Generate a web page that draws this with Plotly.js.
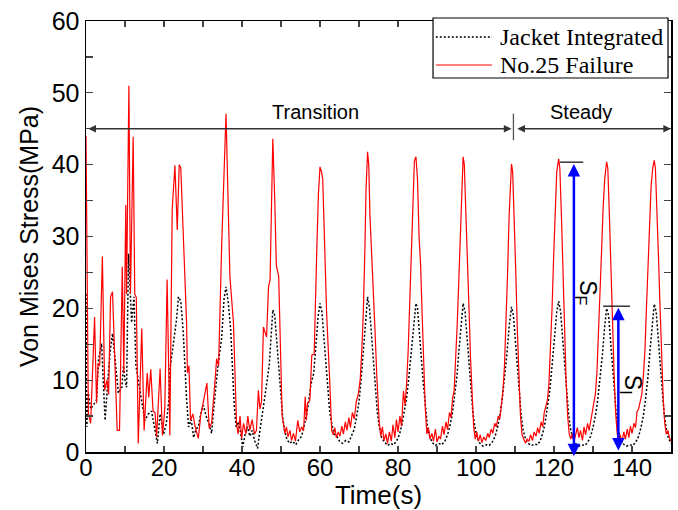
<!DOCTYPE html>
<html>
<head>
<meta charset="utf-8">
<script src="https://cdn.plot.ly/plotly-3.0.1.min.js"></script>
<style>html,body{margin:0;padding:0;background:#fff;}#chart{width:678px;height:510px;}</style>
</head>
<body>
<div id="chart"></div>
<script>
// ---- data ----
const failureTime = [
 0, 0.3, 0.6, 1.2, 1.7, 2.2, 2.7, 3.1, 3.5, 4.2, 4.8, 5.4, 5.8, 6.3, 6.8, 7.4, 8.0, 8.6, 9.3, 9.7, 10.2, 10.4, 11.0, 11.4, 12.1, 12.5, 12.9, 13.4, 14.3, 14.9, 15.7, 16.1, 16.6, 17.2, 17.7, 18.1, 19.0, 19.6, 20.2, 20.8, 21.5, 22.1,
 22.8, 23.4, 23.9, 24.3, 25.0, 25.8, 26.0, 26.4, 26.8, 27.4, 28.0, 28.8, 29.4, 30.1, 31.0, 31.6, 32.2, 33.1, 33.5, 34.0, 34.8, 35.9,
 36.4, 36.9, 37.8, 38.3, 38.6, 39.0, 39.5, 39.9, 40.4, 41.0, 41.5, 42.0, 42.6, 43.2, 43.7, 44.2, 44.6, 45.0, 45.5, 46.3, 46.8, 47.2, 47.9,
 48.4, 48.8, 49.4, 49.9, 50.3, 50.6, 51.0, 51.4, 51.8, 52.3, 52.7, 53.2, 53.7, 54.3, 54.8, 55.3, 55.8, 56.2, 56.5, 56.8, 57.4, 57.9, 58.5, 59.2, 59.6, 60.0,
 60.4, 60.7, 61.3, 61.7, 62.4, 63.0, 63.4, 63.8, 64.2, 64.7, 65.1, 65.6, 66.0, 66.5, 66.9, 67.4, 67.8, 68.3, 68.8, 69.3, 69.8, 70.3, 70.7, 71.1, 71.5, 71.8, 72.2,
 72.5, 72.8, 73.2, 73.7, 74.1, 74.6, 75.2, 75.6, 76.0, 76.4, 76.9, 77.3, 77.8, 78.3, 78.7, 79.2, 79.6, 80.0, 80.5, 80.9, 81.4, 81.8, 82.2, 82.6, 83.0, 83.4, 83.8, 84.2, 84.6,
 85.0, 85.4, 85.8, 86.2, 86.6, 87.0, 87.4, 87.8, 88.2, 88.7, 89.1, 89.6, 90.0, 90.5, 90.9, 91.4, 91.8, 92.3, 92.7, 93.2, 93.6, 94.0, 94.4, 94.8, 95.2, 95.6, 96.0, 96.4, 96.7,
 97.0, 97.4, 97.8, 98.2, 98.6, 99.0, 99.4, 99.8, 100.2, 100.6, 101.1, 101.5, 102.0, 102.5, 103.0, 103.4, 103.9, 104.3, 104.8, 105.2, 105.7, 106.1, 106.5, 106.9, 107.3, 107.7, 108.1, 108.5, 108.9, 109.1,
 109.4, 109.8, 110.2, 110.6, 111.0, 111.4, 111.8, 112.2, 112.7, 113.1, 113.6, 114.0, 114.5, 114.9, 115.4, 115.8, 116.2, 116.7, 117.1, 117.5, 117.9, 118.3, 118.7, 119.1, 119.5, 119.9, 120.3, 120.7, 121.2,
 121.5, 121.9, 122.3, 122.7, 123.1, 123.5, 123.9, 124.3, 124.7, 125.1, 125.5, 126.0, 126.4, 126.8, 127.3, 127.7, 128.1, 128.6, 129.0, 129.4, 129.8, 130.2, 130.6, 131.0, 131.4, 131.8, 132.2, 132.6, 133.0, 133.5,
 133.8, 134.2, 134.6, 135.0, 135.4, 135.8, 136.2, 136.6, 137.0, 137.4, 137.9, 138.3, 138.8, 139.2, 139.6, 140.0, 140.5, 140.9, 141.3, 141.7, 142.1, 142.5, 142.9, 143.3, 143.7, 144.1, 144.5, 144.9, 145.3, 145.7,
 146.0, 146.4, 146.8, 147.2, 147.6, 148.0, 148.4, 148.8, 149.2, 149.6, 150.0
];
const failureStress = [
 44, 20, 5.4, 4.0, 12, 18.8, 6.8, 12.3, 12, 27.2, 8.6, 10, 8, 21.6, 22.3, 13, 3, 3, 25.8, 11, 34.4, 22, 51, 22, 43.9, 22, 21.5, 1.2, 17.2, 3, 11, 7.6, 11.5, 5.7, 5.5, 2.1, 11.6, 2.3, 6, 24, 2.3, 33.7,
 39.9, 30.9, 40, 39.6, 28, 17.9, 11, 12, 4.4, 5.3, 3.5, 1.9, 5, 7, 9.6, 3.3, 4, 10, 13, 12, 29, 47.1,
 36, 24.4, 18.1, 7, 4, 2.5, 5, 1.9, 4, 2.5, 5, 3, 4.5, 2.5, 3, 8.6, 6, 7, 17.4, 16, 23, 24, 43.6,
 35, 26, 24.5, 12, 5, 4.0, 2.6, 3.5, 2.1, 3.0, 1.6, 2.6, 1.5, 4.4, 2.8, 3.5, 3.0, 7.7, 4.4, 6.8, 7.2, 13.5, 13.6, 28.6, 36, 39.7,
 39, 38, 27.5, 19.3, 11, 3.0, 2.4, 3.4, 2.0, 2.8, 2.2, 3.6, 2.5, 4.2, 3.0, 4.8, 3.4, 5.5, 4.6, 7.0, 8.0, 10, 14, 19.3, 28, 36.5, 41.8,
 40, 33, 28, 23.9, 17, 10.1, 4.1, 2.2, 3.5, 1.6, 2.5, 1.2, 2.8, 1.5, 3.8, 2.0, 4.5, 2.8, 5.0, 3.6, 8.5, 6.5, 9.5, 14, 20, 27, 34, 40.5, 41.1,
 38, 30, 26, 19, 12, 6, 2.5, 3.4, 1.8, 2.6, 1.5, 3.2, 1.4, 2.2, 1.8, 3.6, 2.4, 4.2, 3.1, 5.5, 4.8, 7.5, 8.6, 13, 18, 24, 31, 38, 41.1,
 40, 34, 27, 20, 13, 7, 3.5, 1.8, 2.8, 1.5, 2.4, 1.3, 2.1, 1.6, 2.6, 2.0, 3.2, 2.6, 4.0, 3.5, 5.0, 4.6, 6.5, 8.5, 12, 18, 25, 33, 39, 40.1,
 39, 33, 25, 17, 10, 5, 2.4, 1.8, 1.2, 1.8, 1.5, 2.4, 1.6, 2.8, 2.2, 3.4, 2.6, 4.2, 3.5, 5.5, 6.5, 7.2, 9.5, 14, 20, 27, 33, 39, 40.8,
 39.5, 33, 25, 17, 10, 5, 2.5, 1.8, 2.6, 1.4, 2.2, 3.4, 2.0, 3.0, 1.6, 3.5, 2.4, 4.0, 3.0, 4.6, 5.5, 6.8, 8.0, 11, 16, 22, 28, 34, 38, 40.4,
 39.5, 33, 25, 18, 11, 5.5, 2.6, 1.6, 2.4, 1.3, 2.8, 1.8, 3.2, 2.0, 3.6, 2.6, 4.0, 3.4, 5.6, 6.0, 7.2, 8.0, 10.5, 14, 20, 26, 32, 37, 39.5, 40.6,
 39.5, 34, 27, 20, 13, 7.5, 4, 2.5, 3.0, 2.0, 1.5
];
const jacketTime = [
 0, 0.2, 0.6, 1.2, 1.8, 2.7, 3.2, 4.0, 4.5, 4.9, 5.6, 6.2, 6.8, 7.5, 8.3, 9.2, 9.6, 10.0, 10.4, 10.9, 11.3, 11.7, 12.3, 12.8, 13.4, 14.2, 15.1, 16.0, 16.8, 17.7, 18.3, 19.0, 19.9, 20.6, 21.2, 21.5, 22.4, 23.2, 23.7,
 24.3, 24.9, 25.3, 25.8, 26.3, 27.0, 27.6, 28.2, 28.8, 29.4, 30.1, 30.8, 31.5, 32.2, 33.1, 33.9, 34.8, 35.4, 35.9,
 36.5, 37.1, 37.6, 38.0, 38.5, 39.0, 39.6, 40.2, 40.8, 41.4, 42.0, 42.6, 43.3, 44.0, 44.6, 45.0, 45.5, 46.2, 47.0, 47.5, 47.9,
 48.4, 48.9, 49.4, 49.9, 50.4, 50.9, 51.5, 52.2, 53.0, 53.8, 54.6, 55.3, 55.9, 56.5, 57.1, 57.7, 58.4, 59.0, 59.5, 60.0,
 60.5, 61.0, 61.5, 62.0, 62.5, 63.0, 63.6, 64.3, 65.0, 65.8, 66.6, 67.4, 68.1, 68.8, 69.4, 70.0, 70.6, 71.2, 71.7, 72.2,
 72.7, 73.2, 73.7, 74.2, 74.7, 75.2, 75.8, 76.5, 77.3, 78.1, 78.9, 79.7, 80.4, 81.0, 81.6, 82.2, 82.8, 83.4, 83.9, 84.3, 84.6,
 85.0, 85.5, 86.0, 86.5, 87.0, 87.5, 88.1, 88.8, 89.6, 90.4, 91.2, 92.0, 92.7, 93.3, 93.9, 94.5, 95.1, 95.6, 96.1, 96.7,
 97.2, 97.7, 98.2, 98.7, 99.2, 99.7, 100.3, 101.0, 101.8, 102.6, 103.4, 104.2, 104.9, 105.5, 106.1, 106.7, 107.3, 107.9, 108.5, 109.1,
 109.6, 110.1, 110.6, 111.1, 111.6, 112.1, 112.7, 113.4, 114.2, 115.0, 115.8, 116.5, 117.1, 117.7, 118.3, 118.9, 119.5, 120.1, 120.7, 121.2,
 121.7, 122.2, 122.7, 123.2, 123.7, 124.2, 124.8, 125.5, 126.3, 127.1, 127.9, 128.7, 129.4, 130.0, 130.6, 131.2, 131.8, 132.4, 133.0, 133.5,
 134.0, 134.5, 135.0, 135.5, 136.0, 136.5, 137.1, 137.8, 138.6, 139.4, 140.2, 141.0, 141.7, 142.3, 142.9, 143.5, 144.1, 144.6, 145.1, 145.7,
 146.2, 146.7, 147.2, 147.7, 148.2, 148.7, 149.3, 150.0
];
const jacketStress = [
 22, 3.5, 8.2, 6.0, 6.5, 7.2, 12.8, 15.1, 9, 4.4, 10, 14, 16.5, 13, 8.2, 9, 12, 10, 9, 27.6, 22, 18, 21.6, 12, 10, 7.2, 4.4, 5.3, 5.7, 3, 1.2, 5.3, 2.5, 4, 7, 11.4, 15, 18.4, 21.6,
 21, 17, 12.4, 7.3, 3.5, 4.5, 2, 3.2, 3.5, 5.3, 6.5, 5, 4, 2.6, 8, 12.3, 16, 21.3, 23,
 20.7, 17, 11.6, 6.5, 3.5, 4.2, 2.8, 0.7, 2.5, 3.5, 2.2, 3.0, 1.5, 0.5, 3.0, 4.4, 6.5, 9, 12.2, 16, 19.8,
 19, 16, 12, 8.5, 5, 3, 1.8, 1.2, 1.5, 1.0, 1.8, 2.2, 3.5, 5, 7, 9.5, 11, 15.5, 18.8, 20.7,
 19.5, 16, 12, 8.5, 5.5, 4, 2.5, 2.2, 1.5, 1.2, 1.6, 1.4, 2.2, 3.2, 5, 7, 10.5, 15, 19, 21.6,
 20, 16.5, 12.5, 9, 5.5, 3.5, 2, 1.4, 0.9, 1.2, 1.0, 1.6, 2.5, 3.8, 5.5, 7.5, 10.5, 14, 17.5, 19.8, 20.7,
 20, 17, 13, 9.5, 6, 3.8, 2.2, 1.3, 0.9, 1.2, 1.0, 1.5, 2.4, 3.6, 5.2, 7.5, 10.5, 14, 17.5, 20.7,
 19.5, 16, 12, 8.5, 5.5, 3.5, 2, 1.2, 0.8, 1.0, 0.9, 1.4, 2.2, 3.4, 5, 7.2, 10, 13.5, 17.5, 20.2,
 19, 15.5, 11.5, 8, 5, 3, 1.8, 1.2, 0.9, 1.1, 1.0, 1.6, 2.6, 4, 6, 8.5, 12, 16, 19.5, 21,
 19.5, 16, 12, 8.5, 5.5, 3.3, 2, 1.2, 0.8, 1.0, 0.9, 1.4, 2.2, 3.4, 5, 7.2, 10, 13.5, 17.5, 20,
 19, 15.5, 11.5, 8, 5, 3, 1.8, 1.1, 0.8, 1.0, 0.9, 1.4, 2.2, 3.4, 5, 7.5, 10.5, 14, 17.5, 20.6,
 19.5, 16, 12, 8.5, 5.5, 3.5, 2, 1.2
];
const seriesNames = ['Jacket Integrated', 'No.25 Failure'];
const phaseLabels = ['Transition', 'Steady'];
const xTickVals = [0, 20, 40, 60, 80, 100, 120, 140];
const yTickVals = [0, 10, 20, 30, 40, 50, 60];

const SANS = 'Liberation Sans, Arial, sans-serif';
const SERIF = 'Liberation Serif, Times New Roman, serif';
const jacketLine = {color: '#000', width: 1.5, dash: '2px,2px'};
const failureLine = {color: '#ff0000', width: 1.2};

const traces = [
  {x: jacketTime, y: jacketStress, name: seriesNames[0], mode: 'lines', line: jacketLine, showlegend: false},
  {x: failureTime, y: failureStress, name: seriesNames[1], mode: 'lines', line: failureLine, showlegend: false}
];

const arrowCommon = {xref: 'x', yref: 'y', axref: 'x', ayref: 'y', text: '', showarrow: true,
  arrowside: 'end+start', standoff: 0, startstandoff: 0};

// legend box drawn in paper coordinates
const legRows = [0.9629, 0.8979];

const layout = {
  width: 678, height: 510,
  margin: {l: 86, r: 7, t: 21, b: 58},
  paper_bgcolor: '#fff', plot_bgcolor: '#fff',
  showlegend: false,
  xaxis: {range: [0, 150], tickvals: xTickVals, ticks: 'inside', ticklen: 6, tickwidth: 1.2,
    showline: true, linecolor: '#000', linewidth: 1.5, mirror: 'allticks', showgrid: false, zeroline: false,
    minor: {dtick: 10, ticks: 'inside', ticklen: 6, tickwidth: 1.2, showgrid: false},
    tickfont: {family: SANS, size: 24, color: '#000'}, ticklabelstandoff: -6,
    title: {text: 'Time(s)', font: {family: SANS, size: 26, color: '#000'}, standoff: 2}},
  yaxis: {range: [0, 60], tickvals: yTickVals, ticks: 'inside', ticklen: 7, tickwidth: 1.2,
    showline: true, linecolor: '#000', linewidth: 1.5, mirror: 'allticks', showgrid: false, zeroline: false,
    minor: {dtick: 5, ticks: 'inside', ticklen: 7, tickwidth: 1.2, showgrid: false},
    tickfont: {family: SANS, size: 25, color: '#000'},
    title: {text: 'Von Mises Stress(MPa)', font: {family: SANS, size: 25, color: '#000'}, standoff: 6}},
  shapes: [
    {type: 'line', xref: 'x', yref: 'y', x0: 109.6, x1: 109.6, y0: 43.4, y1: 47.1, line: {color: '#555', width: 1.3}},
    {type: 'line', xref: 'x', yref: 'y', x0: 121.5, x1: 127.5, y0: 40.35, y1: 40.35, line: {color: '#000', width: 1.2}},
    {type: 'line', xref: 'x', yref: 'y', x0: 132.6, x1: 139.5, y0: 20.3, y1: 20.3, line: {color: '#000', width: 1.2}},
    {type: 'rect', xref: 'paper', yref: 'paper', x0: 0.5932, x1: 0.9949, y0: 0.8677, y1: 1.007,
     fillcolor: '#fff', line: {color: '#000', width: 1.2}, layer: 'above'},
    {type: 'line', xref: 'paper', yref: 'paper', x0: 0.598, x1: 0.694, y0: legRows[0], y1: legRows[0],
     line: {color: '#000', width: 1.3, dash: '2px,2px'}, layer: 'above'},
    {type: 'line', xref: 'paper', yref: 'paper', x0: 0.598, x1: 0.694, y0: legRows[1], y1: legRows[1],
     line: {color: '#ff0000', width: 1.2}, layer: 'above'}
  ],
  annotations: [
    Object.assign({}, arrowCommon, {x: 109.1, y: 45, ax: 0.2, ay: 45, arrowhead: 2, startarrowhead: 2,
      arrowsize: 1.1, startarrowsize: 1.1, arrowwidth: 1.4, arrowcolor: '#333'}),
    Object.assign({}, arrowCommon, {x: 150, y: 45, ax: 110.2, ay: 45, arrowhead: 2, startarrowhead: 2,
      arrowsize: 1.1, startarrowsize: 1.1, arrowwidth: 1.4, arrowcolor: '#333'}),
    Object.assign({}, arrowCommon, {x: 125.1, y: -0.6, ax: 125.1, ay: 40.3, arrowhead: 2, startarrowhead: 2,
      arrowsize: 1, startarrowsize: 1, arrowwidth: 2.5, arrowcolor: '#0000ff'}),
    Object.assign({}, arrowCommon, {x: 136.5, y: 0.2, ax: 136.5, ay: 20.3, arrowhead: 2, startarrowhead: 2,
      arrowsize: 1, startarrowsize: 1, arrowwidth: 2.5, arrowcolor: '#0000ff'}),
    {xref: 'x', yref: 'y', x: 58.9, y: 47.3, text: phaseLabels[0], showarrow: false,
     font: {family: SANS, size: 20, color: '#000'}},
    {xref: 'x', yref: 'y', x: 126.9, y: 47.3, text: phaseLabels[1], showarrow: false,
     font: {family: SANS, size: 20, color: '#000'}},
    {xref: 'x', yref: 'y', x: 128.3, y: 22.2, text: 'S<sub>F</sub>', showarrow: false, textangle: 90,
     font: {family: SANS, size: 23, color: '#000'}},
    {xref: 'x', yref: 'y', x: 139.9, y: 9.4, text: 'S<sub>I</sub>', showarrow: false, textangle: 90,
     font: {family: SANS, size: 23, color: '#000'}},
    {xref: 'paper', yref: 'paper', x: 0.7043, y: legRows[0], xanchor: 'left', yanchor: 'middle',
     text: seriesNames[0], showarrow: false, font: {family: SERIF, size: 24, color: '#000'}},
    {xref: 'paper', yref: 'paper', x: 0.7043, y: legRows[1], xanchor: 'left', yanchor: 'middle',
     text: seriesNames[1], showarrow: false, font: {family: SERIF, size: 24, color: '#000'}}
  ]
};

Plotly.newPlot('chart', traces, layout, {displayModeBar: false, staticPlot: true});
</script>
</body>
</html>
